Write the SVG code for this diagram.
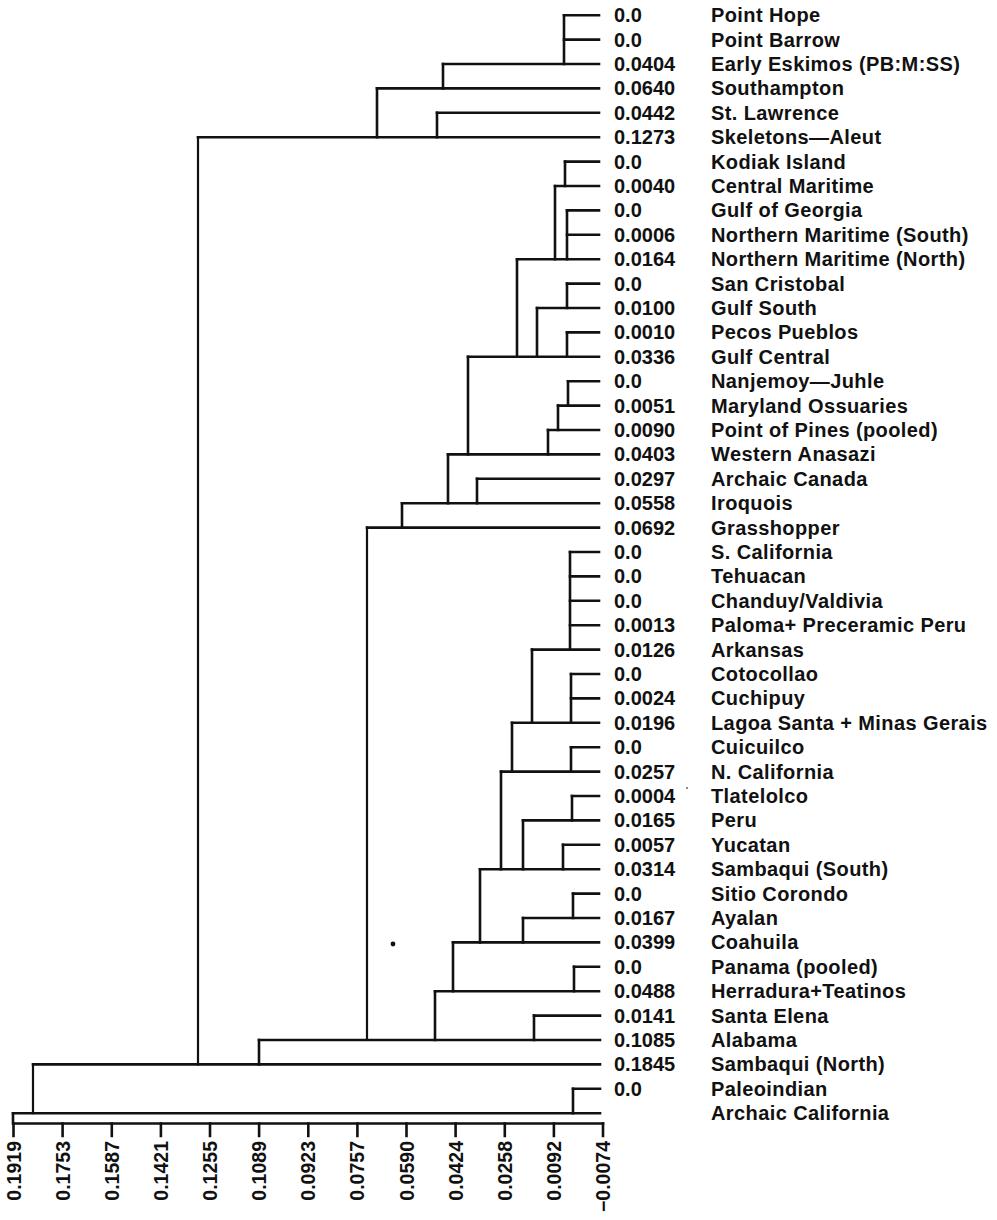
<svg xmlns="http://www.w3.org/2000/svg" width="997" height="1220" viewBox="0 0 997 1220">
  <style>
    .br { stroke: #111; stroke-width: 2.6; fill: none; stroke-linecap: square; }
    .thin { stroke-width: 2.2; }
    .num { font-family: "Liberation Sans", Arial, sans-serif; font-weight: bold; font-size: 20px; fill: #111; }
    .name { font-family: "Liberation Sans", Arial, sans-serif; font-weight: bold; font-size: 20px; fill: #111; letter-spacing: 0.4px; }
    .tick { font-family: "Liberation Sans", Arial, sans-serif; font-weight: bold; font-size: 19.5px; fill: #111; text-anchor: end; }
  </style>
  <rect width="997" height="1220" fill="#fff"/>

  <!-- dendrogram branches: leaf stems (horizontal) and joins (vertical) -->
  <g id="connectors" class="br">
    <!-- horizontal stems, one per leaf row -->
    <path d="M564 15.2H599 M564 39.6H599 M443 64H599 M377 88.4H599 M437 112.8H599 M198 137.2H599"/>
    <path d="M565 161.6H599 M555 186H599 M567 210.4H599 M567 234.8H599 M517 259.2H599 M567 283.6H599 M537 308H599 M567 332.4H599 M468 356.8H599"/>
    <path d="M568 381.2H599 M558 405.6H599 M548 430H599 M448 454.4H599 M477 478.8H599 M402 503.2H599 M367 527.6H599"/>
    <path d="M570 552H599 M570 576.4H599 M570 600.8H599 M570 625.2H599 M532 649.6H599 M571 674H599 M571 698.4H599 M512 722.8H599 M571 747.2H599 M501 771.6H599"/>
    <path d="M572 796H599 M523 820.4H599 M563 844.8H599 M480 869.2H599 M573 893.6H599 M523 918H599 M453 942.4H599 M574 966.8H599 M435 991.2H599"/>
    <path d="M534 1015.6H600 M259 1040H600 M33 1064.4H600 M573 1088.8H600 M13 1113.2H600"/>
    <!-- vertical joins -->
    <path d="M564 15.2V64 M443 64V88.4 M437 112.8V137.2 M377 88.4V137.2"/>
    <path d="M565 161.6V186 M567 210.4V259.2 M555 186V259.2 M567 283.6V308 M567 332.4V356.8 M537 308V356.8 M517 259.2V356.8"/>
    <path d="M568 381.2V405.6 M558 405.6V430 M548 430V454.4 M468 356.8V454.4 M477 478.8V503.2 M448 454.4V503.2 M402 503.2V527.6"/>
    <path d="M570 552V649.6 M571 674V722.8 M532 649.6V722.8 M571 747.2V771.6 M512 722.8V771.6"/>
    <path d="M572 796V820.4 M563 844.8V869.2 M523 820.4V869.2 M501 771.6V869.2"/>
    <path d="M573 893.6V918 M523 918V942.4 M480 869.2V942.4 M574 966.8V991.2 M453 942.4V991.2"/>
    <path d="M534 1015.6V1040 M435 991.2V1040 M259 1040V1064.4 M573 1088.8V1113.2"/>
    <path class="thin" d="M198 137.2V1064.4 M367 527.6V1040 M33 1064.4V1113.2"/>
  </g>

  <!-- leaf labels: join level and sample name -->
  <g id="leaf-point-hope"><text class="num" x="614" y="22.2">0.0</text><text class="name" x="711" y="22.2">Point Hope</text></g>
  <g id="leaf-point-barrow"><text class="num" x="614" y="46.6">0.0</text><text class="name" x="711" y="46.6">Point Barrow</text></g>
  <g id="leaf-early-eskimos"><text class="num" x="614" y="71">0.0404</text><text class="name" x="711" y="71">Early Eskimos (PB:M:SS)</text></g>
  <g id="leaf-southampton"><text class="num" x="614" y="95.4">0.0640</text><text class="name" x="711" y="95.4">Southampton</text></g>
  <g id="leaf-st-lawrence"><text class="num" x="614" y="119.8">0.0442</text><text class="name" x="711" y="119.8">St. Lawrence</text></g>
  <g id="leaf-skeletons-aleut"><text class="num" x="614" y="144.2">0.1273</text><text class="name" x="711" y="144.2">Skeletons—Aleut</text></g>
  <g id="leaf-kodiak-island"><text class="num" x="614" y="168.6">0.0</text><text class="name" x="711" y="168.6">Kodiak Island</text></g>
  <g id="leaf-central-maritime"><text class="num" x="614" y="193">0.0040</text><text class="name" x="711" y="193">Central Maritime</text></g>
  <g id="leaf-gulf-of-georgia"><text class="num" x="614" y="217.4">0.0</text><text class="name" x="711" y="217.4">Gulf of Georgia</text></g>
  <g id="leaf-n-maritime-south"><text class="num" x="614" y="241.8">0.0006</text><text class="name" x="711" y="241.8">Northern Maritime (South)</text></g>
  <g id="leaf-n-maritime-north"><text class="num" x="614" y="266.2">0.0164</text><text class="name" x="711" y="266.2">Northern Maritime (North)</text></g>
  <g id="leaf-san-cristobal"><text class="num" x="614" y="290.6">0.0</text><text class="name" x="711" y="290.6">San Cristobal</text></g>
  <g id="leaf-gulf-south"><text class="num" x="614" y="315">0.0100</text><text class="name" x="711" y="315">Gulf South</text></g>
  <g id="leaf-pecos-pueblos"><text class="num" x="614" y="339.4">0.0010</text><text class="name" x="711" y="339.4">Pecos Pueblos</text></g>
  <g id="leaf-gulf-central"><text class="num" x="614" y="363.8">0.0336</text><text class="name" x="711" y="363.8">Gulf Central</text></g>
  <g id="leaf-nanjemoy-juhle"><text class="num" x="614" y="388.2">0.0</text><text class="name" x="711" y="388.2">Nanjemoy—Juhle</text></g>
  <g id="leaf-maryland-ossuaries"><text class="num" x="614" y="412.6">0.0051</text><text class="name" x="711" y="412.6">Maryland Ossuaries</text></g>
  <g id="leaf-point-of-pines"><text class="num" x="614" y="437">0.0090</text><text class="name" x="711" y="437">Point of Pines (pooled)</text></g>
  <g id="leaf-western-anasazi"><text class="num" x="614" y="461.4">0.0403</text><text class="name" x="711" y="461.4">Western Anasazi</text></g>
  <g id="leaf-archaic-canada"><text class="num" x="614" y="485.8">0.0297</text><text class="name" x="711" y="485.8">Archaic Canada</text></g>
  <g id="leaf-iroquois"><text class="num" x="614" y="510.2">0.0558</text><text class="name" x="711" y="510.2">Iroquois</text></g>
  <g id="leaf-grasshopper"><text class="num" x="614" y="534.6">0.0692</text><text class="name" x="711" y="534.6">Grasshopper</text></g>
  <g id="leaf-s-california"><text class="num" x="614" y="559">0.0</text><text class="name" x="711" y="559">S. California</text></g>
  <g id="leaf-tehuacan"><text class="num" x="614" y="583.4">0.0</text><text class="name" x="711" y="583.4">Tehuacan</text></g>
  <g id="leaf-chanduy-valdivia"><text class="num" x="614" y="607.8">0.0</text><text class="name" x="711" y="607.8">Chanduy/Valdivia</text></g>
  <g id="leaf-paloma"><text class="num" x="614" y="632.2">0.0013</text><text class="name" x="711" y="632.2">Paloma+ Preceramic Peru</text></g>
  <g id="leaf-arkansas"><text class="num" x="614" y="656.6">0.0126</text><text class="name" x="711" y="656.6">Arkansas</text></g>
  <g id="leaf-cotocollao"><text class="num" x="614" y="681">0.0</text><text class="name" x="711" y="681">Cotocollao</text></g>
  <g id="leaf-cuchipuy"><text class="num" x="614" y="705.4">0.0024</text><text class="name" x="711" y="705.4">Cuchipuy</text></g>
  <g id="leaf-lagoa-santa"><text class="num" x="614" y="729.8">0.0196</text><text class="name" x="711" y="729.8">Lagoa Santa + Minas Gerais</text></g>
  <g id="leaf-cuicuilco"><text class="num" x="614" y="754.2">0.0</text><text class="name" x="711" y="754.2">Cuicuilco</text></g>
  <g id="leaf-n-california"><text class="num" x="614" y="778.6">0.0257</text><text class="name" x="711" y="778.6">N. California</text></g>
  <g id="leaf-tlatelolco"><text class="num" x="614" y="803">0.0004</text><text class="name" x="711" y="803">Tlatelolco</text></g>
  <g id="leaf-peru"><text class="num" x="614" y="827.4">0.0165</text><text class="name" x="711" y="827.4">Peru</text></g>
  <g id="leaf-yucatan"><text class="num" x="614" y="851.8">0.0057</text><text class="name" x="711" y="851.8">Yucatan</text></g>
  <g id="leaf-sambaqui-south"><text class="num" x="614" y="876.2">0.0314</text><text class="name" x="711" y="876.2">Sambaqui (South)</text></g>
  <g id="leaf-sitio-corondo"><text class="num" x="614" y="900.6">0.0</text><text class="name" x="711" y="900.6">Sitio Corondo</text></g>
  <g id="leaf-ayalan"><text class="num" x="614" y="925">0.0167</text><text class="name" x="711" y="925">Ayalan</text></g>
  <g id="leaf-coahuila"><text class="num" x="614" y="949.4">0.0399</text><text class="name" x="711" y="949.4">Coahuila</text></g>
  <g id="leaf-panama"><text class="num" x="614" y="973.8">0.0</text><text class="name" x="711" y="973.8">Panama (pooled)</text></g>
  <g id="leaf-herradura"><text class="num" x="614" y="998.2">0.0488</text><text class="name" x="711" y="998.2">Herradura+Teatinos</text></g>
  <g id="leaf-santa-elena"><text class="num" x="614" y="1022.6">0.0141</text><text class="name" x="711" y="1022.6">Santa Elena</text></g>
  <g id="leaf-alabama"><text class="num" x="614" y="1047">0.1085</text><text class="name" x="711" y="1047">Alabama</text></g>
  <g id="leaf-sambaqui-north"><text class="num" x="614" y="1071.4">0.1845</text><text class="name" x="711" y="1071.4">Sambaqui (North)</text></g>
  <g id="leaf-paleoindian"><text class="num" x="614" y="1095.8">0.0</text><text class="name" x="711" y="1095.8">Paleoindian</text></g>
  <g id="leaf-archaic-california"><text class="name" x="711" y="1120.2">Archaic California</text></g>

  <!-- distance scale -->
  <g id="axis">
    <path class="br" d="M13 1113.2V1123.5H603"/>
    <path class="br" d="M13.5 1123.5V1136 M62.6 1123.5V1136 M111.8 1123.5V1136 M160.9 1123.5V1136 M210 1123.5V1136 M259.1 1123.5V1136 M308.3 1123.5V1136 M357.4 1123.5V1136 M406.5 1123.5V1136 M455.6 1123.5V1136 M504.8 1123.5V1136 M553.9 1123.5V1136 M603 1123.5V1136"/>
    <text class="tick" transform="translate(20.5 1141) rotate(-90)">0.1919</text>
    <text class="tick" transform="translate(69.6 1141) rotate(-90)">0.1753</text>
    <text class="tick" transform="translate(118.8 1141) rotate(-90)">0.1587</text>
    <text class="tick" transform="translate(167.9 1141) rotate(-90)">0.1421</text>
    <text class="tick" transform="translate(217 1141) rotate(-90)">0.1255</text>
    <text class="tick" transform="translate(266.1 1141) rotate(-90)">0.1089</text>
    <text class="tick" transform="translate(315.3 1141) rotate(-90)">0.0923</text>
    <text class="tick" transform="translate(364.4 1141) rotate(-90)">0.0757</text>
    <text class="tick" transform="translate(413.5 1141) rotate(-90)">0.0590</text>
    <text class="tick" transform="translate(462.6 1141) rotate(-90)">0.0424</text>
    <text class="tick" transform="translate(511.8 1141) rotate(-90)">0.0258</text>
    <text class="tick" transform="translate(560.9 1141) rotate(-90)">0.0092</text>
    <text class="tick" transform="translate(610 1141) rotate(-90)">−0.0074</text>
  </g>

  <!-- stray print specks -->
  <circle cx="393" cy="944" r="2.4" fill="#111"/>
  <circle cx="687" cy="788" r="0.9" fill="#555"/>
</svg>
